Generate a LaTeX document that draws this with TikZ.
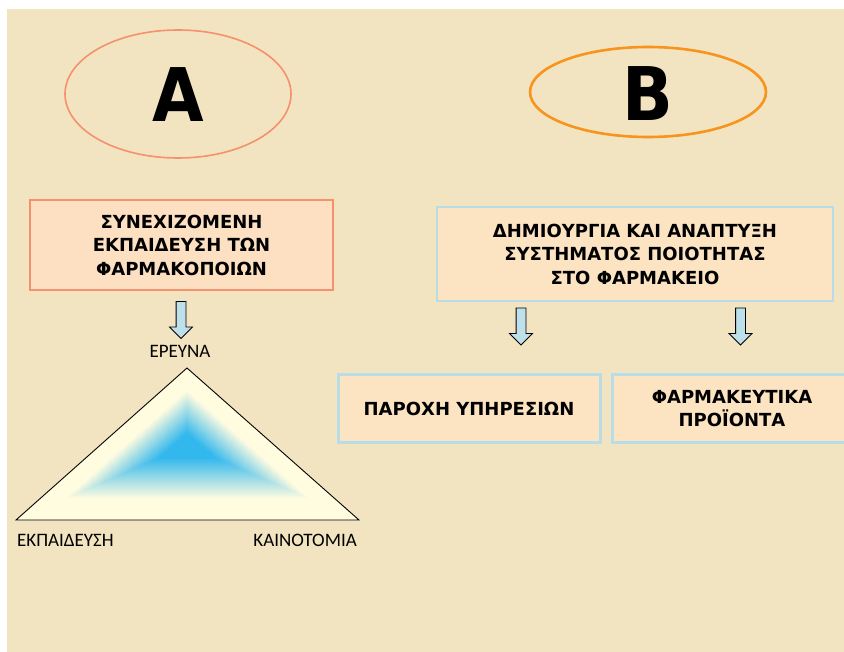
\documentclass[tikz,border=0pt]{standalone}
\usepackage{fontspec}
\setmainfont{DejaVu Sans}
\newfontfamily\labelfont{Carlito}
\newfontfamily\letterfont{DejaVu Sans Condensed}
\usetikzlibrary{shapes.arrows,calc}
\definecolor{parchment}{HTML}{F3E4C1}
\definecolor{peach}{HTML}{FDDFC1}
\definecolor{cream}{HTML}{FCE4C2}
\definecolor{salmon}{HTML}{F5916D}
\definecolor{tangerine}{HTML}{F7941D}
\definecolor{paleblue}{HTML}{B8DDE6}
\definecolor{arrowblue}{HTML}{BEE0EA}
\definecolor{skyblue}{HTML}{33B8EE}
\definecolor{paleyellow}{HTML}{FFFCE0}
\tikzset{
    boxtext/.style={align=center, font=\bfseries\fontsize{18}{23.5}\selectfont},
    downarrow/.style={single arrow, draw=black, fill=arrowblue, line width=0.8pt,
        minimum height=37, single arrow head extend=6.5,
        single arrow head indent=0, inner sep=4.5, shape border rotate=270},
    cornerlabel/.style={inner sep=0, font=\labelfont\fontsize{19}{19}\selectfont}
}

\begin{document}
\begin{tikzpicture}[x=1pt, y=-1pt]
  \useasboundingbox (0,0) rectangle (844,652);
  \clip (0,0) rectangle (844,652);
  \fill[white] (0,0) rectangle (844,652);
  \fill[parchment] (7,9) rectangle (844,652);

  % the two headings
  \draw[salmon, line width=1.6pt] (178,94) ellipse [x radius=113, y radius=64];
  \draw[tangerine, line width=2.6pt] (648,92) ellipse [x radius=118, y radius=45];
  \node (A) at (178,95) {\letterfont\bfseries\fontsize{74}{74}\selectfont A};
  \node (B) at (648,94) {\letterfont\bfseries\fontsize{74}{74}\selectfont B};

  % left column
  \node (edu) [boxtext, draw=salmon, fill=peach, line width=1.5pt,
    minimum width=303, minimum height=90] at (181.5,245)
    {ΣΥΝΕΧΙΖΟΜΕΝΗ\\ΕΚΠΑΙΔΕΥΣΗ ΤΩΝ\\ΦΑΡΜΑΚΟΠΟΙΩΝ};
  \node (arrL) [downarrow] at (181,317.5) {};

  \coordinate (apex) at (187,368);
  \coordinate (lft) at (16,520);
  \coordinate (rgt) at (359,520);
  \coordinate (ctr) at (187,446);
  \foreach \i in {0,...,80} {
    \pgfmathsetmacro\s{1-\i/80}
    \pgfmathtruncatemacro\p{min(100,max(0,(0.72-\s)/0.55*100))}
    \fill[skyblue!\p!paleyellow] ($(ctr)!\s!(apex)$) -- ($(ctr)!\s!(lft)$)
      -- ($(ctr)!\s!(rgt)$) -- cycle;
  }
  \draw[black, line width=0.9pt, line join=miter] (apex) -- (lft) -- (rgt) -- cycle;
  \node (research) [cornerlabel, anchor=base] at (180,358) {ΕΡΕΥΝΑ};
  \node (training) [cornerlabel, anchor=base west] at (17,546) {ΕΚΠΑΙΔΕΥΣΗ};
  \node (innovation) [cornerlabel, anchor=base east] at (357,546) {ΚΑΙΝΟΤΟΜΙΑ};

  % right column
  \node (quality) [boxtext, draw=paleblue, fill=cream, line width=2pt,
    minimum width=396, minimum height=94] at (635,254)
    {ΔΗΜΙΟΥΡΓΙΑ ΚΑΙ ΑΝΑΠΤΥΞΗ\\ΣΥΣΤΗΜΑΤΟΣ ΠΟΙΟΤΗΤΑΣ\\ΣΤΟ ΦΑΡΜΑΚΕΙΟ};
  \node (arrS) [downarrow] at (521,324) {};
  \node (arrP) [downarrow] at (740.5,324) {};
  \node (services) [boxtext, draw=paleblue, fill=cream, line width=3pt,
    minimum width=262, minimum height=67] at (469,408.5) {ΠΑΡΟΧΗ ΥΠΗΡΕΣΙΩΝ};
  \node (products) [boxtext, draw=paleblue, fill=cream, line width=3pt,
    minimum width=240, minimum height=67] at (732,408.5)
    {ΦΑΡΜΑΚΕΥΤΙΚΑ\\ΠΡΟΪΟΝΤΑ};
\end{tikzpicture}
\end{document}
